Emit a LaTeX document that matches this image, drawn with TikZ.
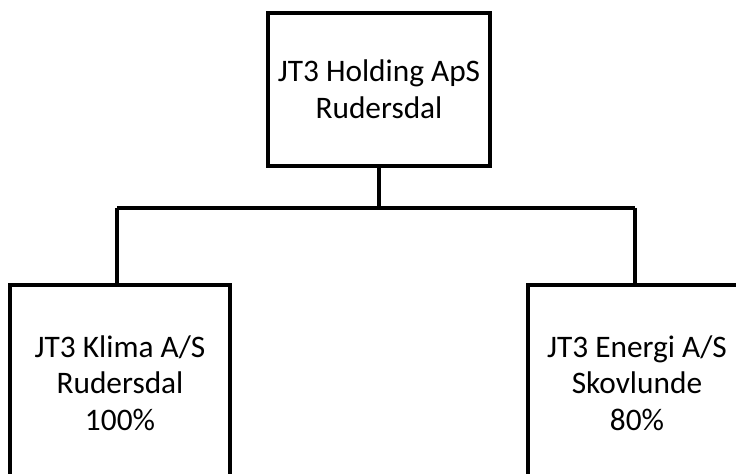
\documentclass[tikz,border=0pt]{standalone}
\usepackage{fontspec}
\setmainfont{Carlito}
\usepackage{tikz}

\newlength{\pxl}
\setlength{\pxl}{0.75pt}
\tikzset{
  firma/.style={draw, line width=2.6pt, align=center, font=\fontsize{23.5}{27.5}\selectfont,
    minimum width=220\pxl, inner sep=0pt},
}

\begin{document}
\begin{tikzpicture}[x=0.75pt, y=-0.75pt, line width=2.6pt]
\useasboundingbox (0,0) rectangle (736,474);
\clip (0,0) rectangle (736,474);
\node[firma, minimum width=222\pxl, minimum height=153\pxl] (holding) at (379,89.5) {JT3 Holding ApS\\Rudersdal};
\node[firma, minimum height=196\pxl] (klima) at (120,383) {JT3 Klima A/S\\Rudersdal\\100\%};
\node[firma, minimum width=218\pxl, minimum height=196\pxl] (energi) at (637,383) {JT3 Energi A/S\\Skovlunde\\80\%};
%\draw[very thin,color=gray] (0,0) grid[step=50] (736,474);
\coordinate (barL) at (117,208);
\coordinate (barR) at (635,208);
\draw (holding.south) -- (holding.south |- barL);
\draw (barL) -- (barR);
\draw (barL) -- (barL |- klima.north);
\draw (barR) -- (barR |- energi.north);
\end{tikzpicture}
\end{document}
